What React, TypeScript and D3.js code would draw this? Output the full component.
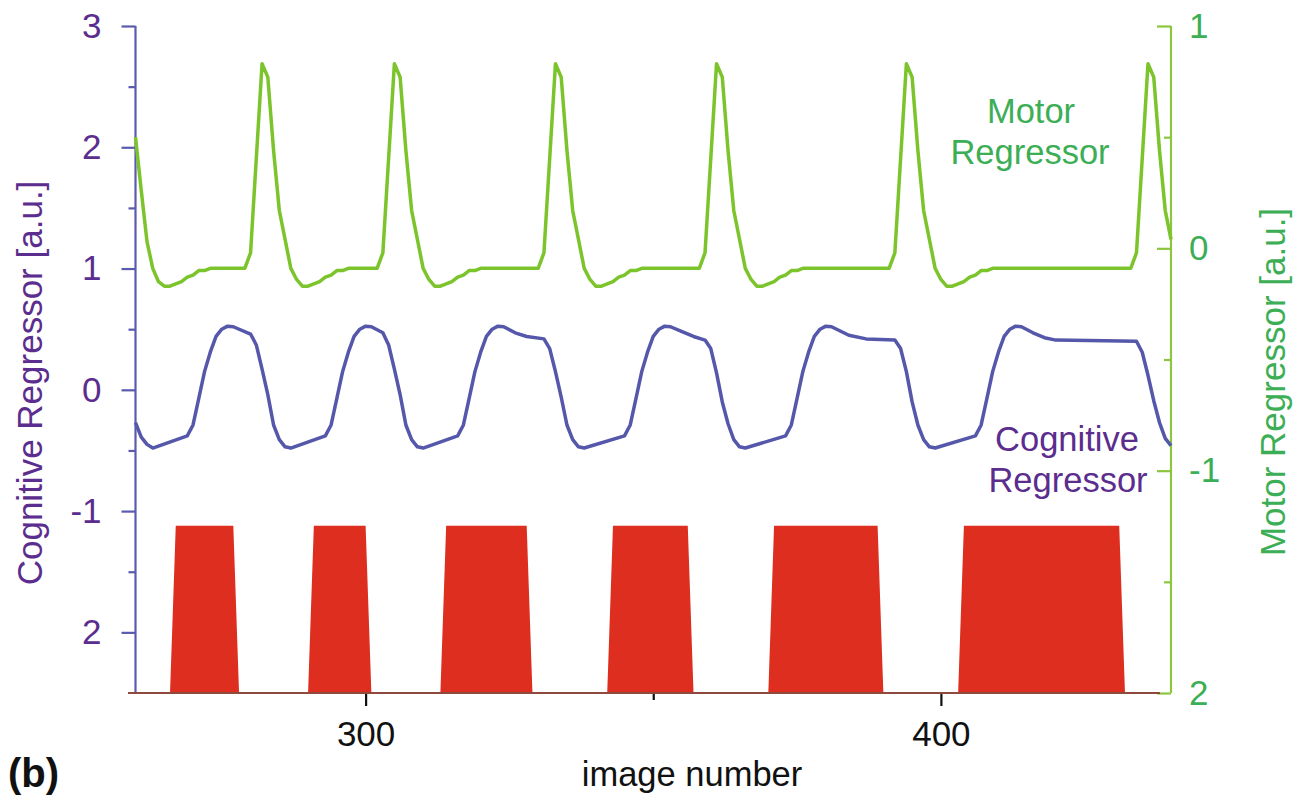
import { useEffect, useRef } from "react";
import * as d3 from "d3";

const W = 1303;
const H = 801;

// cognitive task blocks (image numbers, first and last image of each block)
const blockStart = [267, 291, 314, 343, 371, 404];
const blockEnd = [277, 300, 328, 356, 389, 431];
const blockOn = -1.12;
const blockOff = -2.5;

// cognitive regressor, left axis [image, value]
const cognitive: [number, number][] = [
  [260, -0.27], [261, -0.39], [262, -0.45], [263, -0.48], [269, -0.38], [270, -0.29],
  [271, -0.07], [272, 0.15], [273, 0.31], [274, 0.44], [275, 0.5], [276, 0.525],
  [277, 0.52], [280, 0.46], [281, 0.37], [282, 0.17], [283, -0.04], [284, -0.29],
  [285, -0.41], [286, -0.47], [287, -0.48], [293, -0.38], [294, -0.29], [295, -0.07],
  [296, 0.15], [297, 0.31], [298, 0.44], [299, 0.5], [300, 0.525], [301, 0.52],
  [303, 0.47], [304, 0.37], [305, 0.17], [306, -0.04], [307, -0.29], [308, -0.41],
  [309, -0.47], [310, -0.48], [316, -0.38], [317, -0.29], [318, -0.07], [319, 0.15],
  [320, 0.31], [321, 0.44], [322, 0.5], [323, 0.525], [324, 0.52], [326, 0.47],
  [328, 0.44], [331, 0.42], [332, 0.34], [333, 0.15], [334, -0.06], [335, -0.29],
  [336, -0.41], [337, -0.47], [338, -0.48], [345, -0.38], [346, -0.29], [347, -0.07],
  [348, 0.15], [349, 0.31], [350, 0.44], [351, 0.5], [352, 0.525], [353, 0.52],
  [355, 0.48], [357, 0.44], [359, 0.41], [360, 0.34], [361, 0.14], [362, -0.1],
  [363, -0.28], [364, -0.41], [365, -0.47], [366, -0.48], [373, -0.38], [374, -0.29],
  [375, -0.07], [376, 0.15], [377, 0.31], [378, 0.44], [379, 0.5], [380, 0.525],
  [381, 0.52], [384, 0.45], [387, 0.42], [392, 0.41], [393, 0.34], [394, 0.15],
  [395, -0.1], [396, -0.29], [397, -0.41], [398, -0.47], [399, -0.48], [406, -0.38],
  [407, -0.29], [408, -0.07], [409, 0.15], [410, 0.31], [411, 0.44], [412, 0.5],
  [413, 0.525], [414, 0.52], [416, 0.47], [418, 0.43], [420, 0.41], [434, 0.4],
  [435, 0.31], [436, 0.12], [437, -0.09], [438, -0.27], [439, -0.4], [440, -0.46],
];

// motor regressor, right axis [image, value]
const motor: [number, number][] = [
  [260, 0.5], [261, 0.26], [262, 0.03], [263, -0.09], [264, -0.15], [265, -0.17],
  [266, -0.17], [267, -0.16], [268, -0.15], [269, -0.13], [270, -0.12], [271, -0.1],
  [272, -0.1], [273, -0.09], [279, -0.09],
  [280, -0.02], [282, 0.83], [283, 0.77], [284, 0.44], [285, 0.17], [286, 0.04],
  [287, -0.09], [288, -0.14], [289, -0.17], [290, -0.17], [291, -0.16], [292, -0.15],
  [293, -0.13], [294, -0.12], [295, -0.1], [296, -0.1], [297, -0.09], [302, -0.09],
  [303, -0.02], [305, 0.83], [306, 0.77], [307, 0.44], [308, 0.17], [309, 0.04],
  [310, -0.09], [311, -0.14], [312, -0.17], [313, -0.17], [314, -0.16], [315, -0.15],
  [316, -0.13], [317, -0.12], [318, -0.1], [319, -0.1], [320, -0.09], [330, -0.09],
  [331, -0.02], [333, 0.83], [334, 0.77], [335, 0.44], [336, 0.17], [337, 0.04],
  [338, -0.09], [339, -0.14], [340, -0.17], [341, -0.17], [342, -0.16], [343, -0.15],
  [344, -0.13], [345, -0.12], [346, -0.1], [347, -0.1], [348, -0.09], [358, -0.09],
  [359, -0.02], [361, 0.83], [362, 0.77], [363, 0.44], [364, 0.17], [365, 0.04],
  [366, -0.09], [367, -0.14], [368, -0.17], [369, -0.17], [370, -0.16], [371, -0.15],
  [372, -0.13], [373, -0.12], [374, -0.1], [375, -0.1], [376, -0.09], [391, -0.09],
  [392, -0.02], [394, 0.83], [395, 0.77], [396, 0.44], [397, 0.17], [398, 0.04],
  [399, -0.09], [400, -0.14], [401, -0.17], [402, -0.17], [403, -0.16], [404, -0.15],
  [405, -0.13], [406, -0.12], [407, -0.1], [408, -0.1], [409, -0.09], [433, -0.09],
  [434, -0.02], [436, 0.83], [437, 0.77], [438, 0.44], [439, 0.17], [440, 0.04],
];

const leftTicks = [-2, -1, 0, 1, 2, 3];
const leftTickLabels = ["2", "-1", "0", "1", "2", "3"];
const leftMinor = [-1.5, -0.5, 0.5, 1.5, 2.5];
const rightTicks = [-2, -1, 0, 1];
const rightTickLabels = ["2", "-1", "0", "1"];
const rightMinor = [-1.5, -0.5, 0.5];
const xTicks = [300, 400];
const xMinor = [350];

const FONT = "'Liberation Sans', Arial, sans-serif";
const PURPLE = "#5b2d8e";
const GREEN_TXT = "#3cae55";

export default function App() {
  const ref = useRef<SVGSVGElement>(null);

  useEffect(() => {
    const svg = d3.select(ref.current);
    svg.selectAll("*").remove();

    const x = d3.scaleLinear().domain([260, 440]).range([135.5, 1171]);
    const yL = d3.scaleLinear().domain([-2.5, 3]).range([693, 26]);
    const yR = d3.scaleLinear().domain([-2, 1]).range([693, 26]);

    // stimulus boxcar, sampled per image
    const stim: [number, number][] = [[260, blockOff]];
    blockStart.forEach((s, i) => {
      const e = blockEnd[i];
      stim.push([s - 1, blockOff], [s, blockOn], [e, blockOn], [e + 1, blockOff]);
    });
    stim.push([440, blockOff]);

    const area = d3.area<[number, number]>()
      .x((d) => x(d[0]))
      .y0(yL(blockOff))
      .y1((d) => yL(d[1]));
    svg.append("path").attr("d", area(stim)).attr("fill", "#de2e1f");

    const styleAxis = (g: any, col: string, txt: string) => {
      g.select(".domain").remove();
      g.selectAll("line").attr("stroke", col).attr("stroke-width", 2.2);
      g.selectAll("text").attr("fill", txt).style("font-family", FONT).style("font-size", "35px");
    };

    // left axis
    const gl = svg.append("g").attr("transform", "translate(135.5,0)");
    gl.append("g")
      .call(d3.axisLeft(yL).tickValues(leftMinor).tickSize(7).tickFormat(() => ""))
      .call((g: any) => styleAxis(g, "#5a5aae", PURPLE));
    gl.append("g")
      .call(d3.axisLeft(yL).tickValues(leftTicks).tickSize(14).tickPadding(20)
        .tickFormat((d, i) => leftTickLabels[i]))
      .call((g: any) => styleAxis(g, "#5a5aae", PURPLE));
    gl.append("line").attr("y1", 26).attr("y2", 693)
      .attr("stroke", "#5a5aae").attr("stroke-width", 2.2);

    // right axis
    const gr = svg.append("g").attr("transform", "translate(1171,0)");
    gr.append("g")
      .call(d3.axisRight(yR).tickValues(rightMinor).tickSizeInner(-7).tickSizeOuter(0).tickFormat(() => ""))
      .call((g: any) => styleAxis(g, "#8cc63f", GREEN_TXT));
    gr.append("g")
      .call(d3.axisRight(yR).tickValues(rightTicks).tickSizeInner(-14).tickSizeOuter(0).tickPadding(18)
        .tickFormat((d, i) => rightTickLabels[i]))
      .call((g: any) => styleAxis(g, "#8cc63f", GREEN_TXT));

    // bottom axis
    const gb = svg.append("g").attr("transform", "translate(0,693)");
    gb.append("g")
      .call(d3.axisBottom(x).tickValues(xMinor).tickSize(7).tickFormat(() => ""))
      .call((g: any) => styleAxis(g, "#111", "#111"));
    gb.append("g")
      .call(d3.axisBottom(x).tickValues(xTicks).tickSize(13).tickPadding(15).tickFormat(d3.format("d")))
      .call((g: any) => styleAxis(g, "#111", "#111"));
    gb.append("line").attr("x1", 128).attr("x2", 1160)
      .attr("stroke", "#8e4a3c").attr("stroke-width", 2.2);
    gr.append("line").attr("y1", 26).attr("y2", 693)
      .attr("stroke", "#8cc63f").attr("stroke-width", 2.2);

    // regressors
    const lineL = d3.line<[number, number]>().x((d) => x(d[0])).y((d) => yL(d[1]));
    const lineR = d3.line<[number, number]>().x((d) => x(d[0])).y((d) => yR(d[1]));
    svg.append("path").attr("d", lineL(cognitive)).attr("fill", "none")
      .attr("stroke", "#5558aa").attr("stroke-width", 3.5).attr("stroke-linejoin", "round");
    svg.append("path").attr("d", lineR(motor)).attr("fill", "none")
      .attr("stroke", "#7cc42c").attr("stroke-width", 3.5).attr("stroke-linejoin", "round");

    const txt = (s: string, tx: number, ty: number, col: string, size: number, extra?: (t: any) => void) => {
      const t = svg.append("text").attr("x", tx).attr("y", ty).text(s)
        .attr("fill", col).style("font-family", FONT).style("font-size", size + "px")
        .attr("text-anchor", "middle");
      if (extra) extra(t);
      return t;
    };

    txt("Motor", 1031, 123, GREEN_TXT, 34.5);
    txt("Regressor", 1030, 164, GREEN_TXT, 34.5);
    txt("Cognitive", 1067, 451, PURPLE, 34.5);
    txt("Regressor", 1068, 492, PURPLE, 34.5);
    txt("image number", 692, 786, "#111", 34.5);
    txt("Cognitive Regressor [a.u.]", 0, 0, PURPLE, 35, (t) =>
      t.attr("x", null).attr("y", null).attr("transform", "translate(42,383) rotate(-90)"));
    txt("Motor Regressor [a.u.]", 0, 0, GREEN_TXT, 35, (t) =>
      t.attr("x", null).attr("y", null).attr("transform", "translate(1285,382) rotate(-90)"));
    txt("(b)", 8, 787, "#111", 40, (t) => t.attr("text-anchor", "start").style("font-weight", "bold"));
  }, []);

  return (
    <svg ref={ref} width={W} height={H}
      style={{ position: "absolute", left: 0, top: 0, background: "#fff" }} />
  );
}
